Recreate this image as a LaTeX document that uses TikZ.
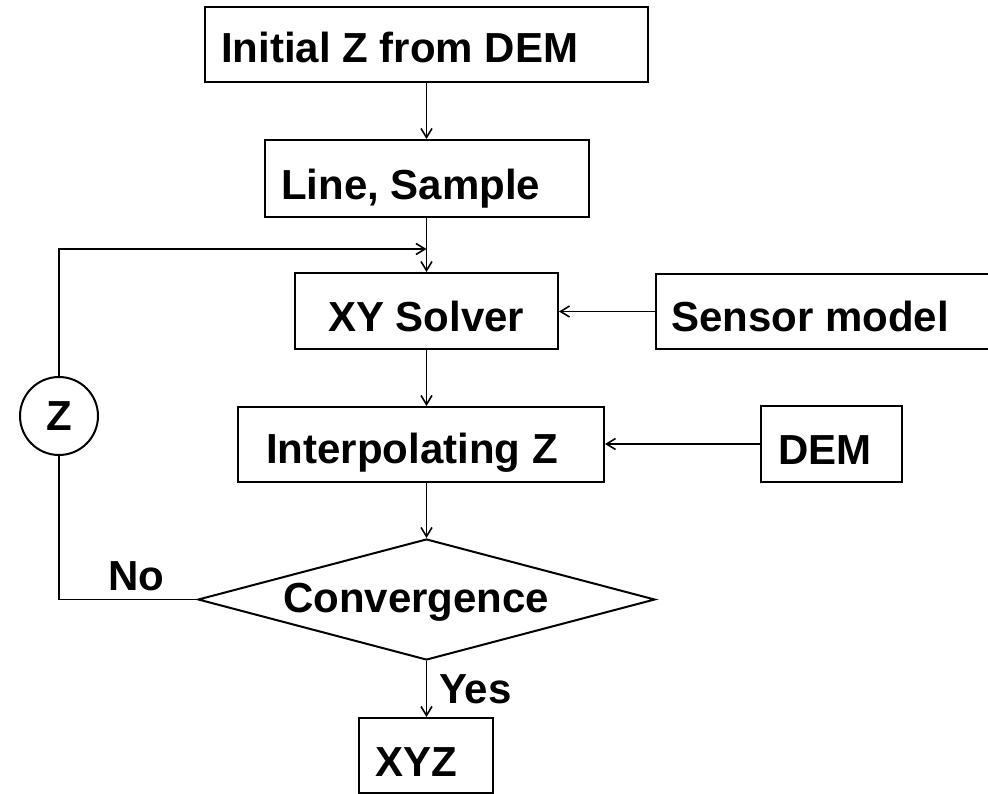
\documentclass[tikz,border=0pt]{standalone}
\usepackage{fontspec}
\setmainfont{Liberation Sans}
\usetikzlibrary{arrows.meta,shapes.geometric}
\begin{document}
\begin{tikzpicture}[x=1pt,y=-1pt,
  box/.style={draw,line width=2pt,inner sep=0pt,fill=none},
  lbl/.style={inner sep=0pt,anchor=base west,font=\bfseries\fontsize{42}{50}\selectfont},
  conn/.style={line width=1.6pt},
  arr/.style={conn,-{Straight Barb[length=9pt,width=11pt,line width=1.6pt]}}]
\useasboundingbox (0,0) rectangle (988,794);
% boxes
\node[box,minimum width=443pt,minimum height=75pt] (init) at (426,44.5) {};
\node[box,minimum width=324pt,minimum height=77pt] (ls) at (427,178.5) {};
\node[box,minimum width=263pt,minimum height=76pt] (xy) at (426.5,311) {};
\node[box,minimum width=336pt,minimum height=75pt] (sm) at (824,311.5) {};
\node[box,minimum width=366pt,minimum height=75pt] (ip) at (421,444.5) {};
\node[box,minimum width=141pt,minimum height=76pt] (dem) at (831.5,444) {};
\node[box,shape=diamond,minimum width=457pt,minimum height=121pt] (dia) at (426.5,599.5) {};
\node[box,minimum width=134pt,minimum height=75pt] (xyz) at (426,755.5) {};
\node[box,shape=circle,minimum size=78pt,font=\bfseries\fontsize{42}{50}\selectfont] (zc) at (59,416) {Z};
% texts
\node[lbl] (init-t) at (221,63) {Initial Z from DEM};
\node[lbl] (ls-t) at (281,200) {Line, Sample};
\node[lbl] (xy-t) at (328,331) {XY Solver};
\node[lbl] (sm-t) at (671,332) {Sensor model};
\node[lbl] (ip-t) at (266,463) {Interpolating Z};
\node[lbl] (dem-t) at (778,464) {DEM};
\node[lbl] (dia-t) at (283,612) {Convergence};
\node[lbl] (xyz-t) at (375,776) {XYZ};
\node[lbl] (no-t) at (108,590) {No};
\node[lbl] (yes-t) at (439,703) {Yes};
% connectors
\coordinate (cx) at (426.5,0);
\coordinate (fb) at (0,249);
\draw[arr] (cx |- init.south) -- (cx |- ls.north);
\draw[arr] (cx |- ls.south) -- (cx |- xy.north);
\draw[arr] (cx |- xy.south) -- (cx |- ip.north);
\draw[arr] (cx |- ip.south) -- (dia.north);
\draw[arr] (dia.south) -- (dia.south |- xyz.north);
\draw[arr] (sm.west) -- (sm.west -| xy.east);
\draw[arr] (dem.west) -- (dem.west -| ip.east);
\draw[conn] (dia.west) -| (zc.south);
\draw[arr] (zc.north) |- (cx |- fb);
\end{tikzpicture}
\end{document}
